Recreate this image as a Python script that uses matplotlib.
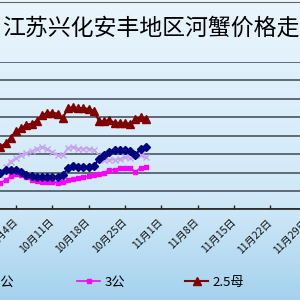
import numpy as np
import pandas as pd
import matplotlib
matplotlib.use("Agg")
import matplotlib.pyplot as plt
import matplotlib.dates as mdates
from matplotlib.lines import Line2D
from matplotlib.colors import LinearSegmentedColormap

plt.rcParams['font.family'] = ['Noto Sans CJK SC', 'DejaVu Sans']

# ---------------- data ----------------
title = "江苏兴化安丰地区河蟹价格走势图"
dates = ["2013-09-30", "2013-10-01", "2013-10-02", "2013-10-03", "2013-10-04",
         "2013-10-05", "2013-10-06", "2013-10-07", "2013-10-08", "2013-10-09",
         "2013-10-10", "2013-10-11", "2013-10-12", "2013-10-13", "2013-10-14",
         "2013-10-15", "2013-10-16", "2013-10-17", "2013-10-18", "2013-10-19",
         "2013-10-20", "2013-10-21", "2013-10-22", "2013-10-23", "2013-10-24",
         "2013-10-25", "2013-10-26", "2013-10-27", "2013-10-28", "2013-10-29"]
s_4gong = [18, 20, 21.5, 21.5, 21.5, 20.5, 18.5, 18, 17.5, 17.5,
           17.5, 17.5, 17.5, 18.5, 22.5, 23.5, 23, 23, 23, 23.5,
           27.5, 29.5, 31, 32.5, 32.5, 32.5, 31.5, 29.5, 33, 34]
s_35gong = [13.5, 18.5, 23, 26, 28, 29.5, 30.5, 31.5, 33, 34,
            33, 31, 29.5, 29.5, 33.5, 34, 33, 33, 33, 32.5,
            29.5, 27, 27, 27, 27.5, 28.5, 28, 29.5, 29.5, 28.5]
s_3gong = [12.5, 14.5, 16, 18, 19.5, 18.5, 17.5, 16, 15.5, 15,
           15, 15, 14.5, 15, 16, 16.5, 17, 17.5, 18, 18.5,
           19.5, 20, 21.5, 21.5, 22.5, 22.5, 22.5, 20.5, 22.5, 23]
s_25mu = [31, 34, 36, 39, 42.5, 44, 46, 46.5, 48, 51,
          52.5, 52.5, 52, 49.5, 55, 55.5, 55, 55, 54.5, 53.5,
          48, 48, 48.5, 47, 47, 47, 46.5, 49, 50, 49]
series_names = ["4公", "3.5公", "3公", "2.5母"]
tick_dates = ["2013-10-04", "2013-10-11", "2013-10-18", "2013-10-25", "2013-11-01",
              "2013-11-08", "2013-11-15", "2013-11-22", "2013-11-29"]
tick_labels = ["10月4日", "10月11日", "10月18日", "10月25日", "11月1日",
               "11月8日", "11月15日", "11月22日", "11月29日"]
y_grid = [0, 10, 20, 30, 40, 50, 60, 70, 80]

# ---------------- figure ----------------
fig = plt.figure(figsize=(3, 3), dpi=100)

# background gradient
bg = fig.add_axes([0, 0, 1, 1], zorder=-5)
cmap = LinearSegmentedColormap.from_list(
    "bg", [(0.0, "#eaf5fc"), (0.21, "#e2f1fb"), (0.70, "#cee7f7"), (1.0, "#a4d2ee")])
grad = np.linspace(0, 1, 300).reshape(-1, 1)
bg.imshow(grad, aspect='auto', cmap=cmap, extent=[0, 1, 0, 1], origin='upper')
bg.set_axis_off()

ax = fig.add_axes([-0.2, 0.3017, 1.4, 0.4917])
ax.patch.set_alpha(0)

x = mdates.date2num(pd.to_datetime(dates))
ref = mdates.date2num(pd.Timestamp(tick_dates[0]))
ax.set_xlim(ref - 14.64, ref + 66.28)
ax.set_ylim(y_grid[0], y_grid[-1])

l_lav, = ax.plot(x, s_35gong, color='#c6a2f0', lw=1.2, marker='x', ms=4.5,
                 mew=1.0, zorder=2)
l_mag, = ax.plot(x, s_3gong, color='#ff00ff', lw=1.2, marker='s', ms=3.3,
                 zorder=3)
l_blu, = ax.plot(x, s_4gong, color='#000080', lw=1.5, marker='D', ms=3.9,
                 zorder=4)
l_red, = ax.plot(x, s_25mu, color='#800000', lw=1.5, marker='^', ms=5.3,
                 zorder=5)

ax.set_yticks(y_grid)
ax.yaxis.grid(True, color='#56616a', lw=1.3)
ax.set_axisbelow(True)
ax.tick_params(axis='y', left=False, labelleft=False)

ax.set_xticks(mdates.date2num(pd.to_datetime(tick_dates)))
ax.set_xticklabels(tick_labels, rotation=45, ha='right', va='center',
                   rotation_mode='anchor', fontsize=7.5, color='#111')
ax.tick_params(axis='x', direction='in', length=3, width=1, color='#222', pad=8)

for s in ['top', 'right', 'left']:
    ax.spines[s].set_visible(False)
ax.spines['bottom'].set_color('#222')
ax.spines['bottom'].set_linewidth(1.2)

# title
fig.text(2 / 300, (300 - 28) / 300, title, ha='left', va='center',
         fontsize=16.5, fontweight='medium', color='black')

# top border line
fig.add_artist(Line2D([0, 1], [0.995, 0.995], transform=fig.transFigure,
                      color='#666666', lw=0.8))

# legend, one entry at a time
leg_pos = [-150 / 300, -45 / 300, 77 / 300, 185 / 300]
for h, name, px in zip([l_blu, l_lav, l_mag, l_red], series_names, leg_pos):
    fig.legend([h], [name], loc='center left', bbox_to_anchor=(px, 18 / 300),
               frameon=False, borderpad=0, borderaxespad=0, handlelength=1.75,
               handletextpad=0.35, fontsize=9.5)

fig.savefig("out.png", dpi=100)
